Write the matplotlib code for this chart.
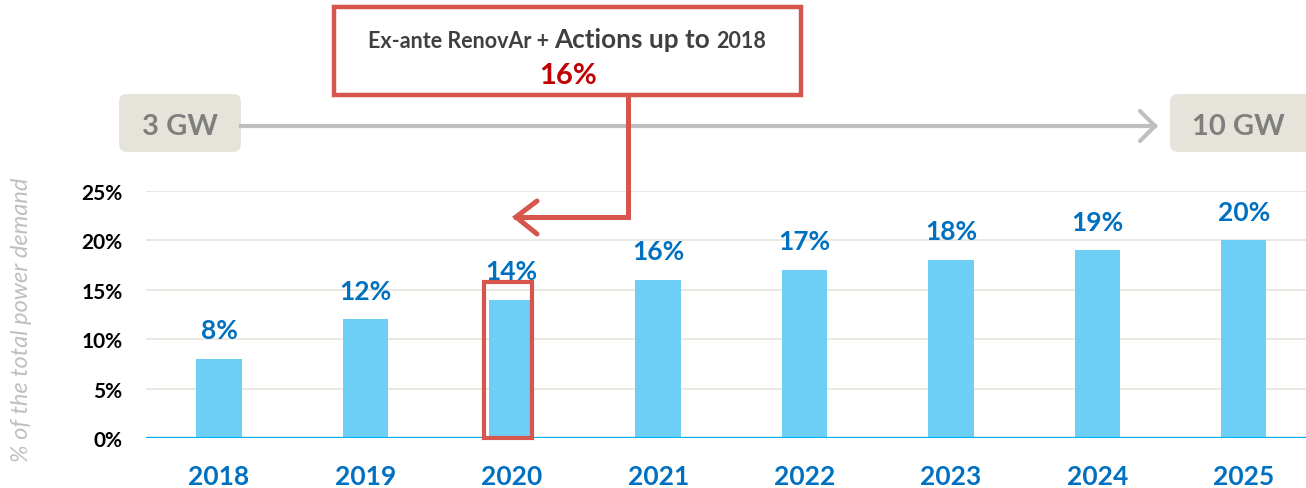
import matplotlib
matplotlib.use("Agg")
import matplotlib.pyplot as plt
from matplotlib.patches import FancyBboxPatch, Rectangle
from matplotlib.lines import Line2D
import numpy as np

plt.rcParams['font.family'] = ['Lato', 'DejaVu Sans']

years = ['2018', '2019', '2020', '2021', '2022', '2023', '2024', '2025']
share = [8, 12, 14, 16, 17, 18, 19, 20]
yticks = [0, 5, 10, 15, 20, 25]
start_cap = '3 GW'
end_cap = '10 GW'
target_txt = '16%'
highlight = '2020'

W, H = 1306, 489
fig = plt.figure(figsize=(W / 100, H / 100), dpi=100)
ax = fig.add_axes([146 / W, 50 / H, 1 - 146 / W, 247 / H])

blue = '#0070C0'
red = '#D6554D'

x = np.arange(len(years))
ax.bar(x, share, width=0.31, color='#6DCFF6', zorder=2)
for i, v in zip(x, share):
    ax.text(i, v + 2.1, f'{v}%', ha='center', va='baseline', color=blue,
            fontsize=19, fontweight='bold')

ax.set_xlim(-0.4986, 7.425)
ax.set_ylim(0, 25)
ax.set_yticks(yticks)
ax.set_yticklabels([f'{t}%' for t in yticks], fontsize=15, fontweight='bold')
ax.set_xticks(x)
ax.set_xticklabels(years, fontsize=19, fontweight='bold', color=blue)
ax.tick_params(axis='y', length=0, pad=17)
ax.tick_params(axis='x', length=0, pad=19)
ax.grid(axis='y', color='#E6E4DA', lw=1.2, zorder=0)
for s in ax.spines.values():
    s.set_visible(False)
ax.axhline(0, color='#00B0F0', lw=2.4, zorder=3)

# red frame round the 2020 bar
hi = years.index(highlight)
ax.add_patch(Rectangle((hi - 0.19, 0.05), 0.325, share[hi] + 1.75, fill=False,
                       ec=red, lw=3, clip_on=False, zorder=4))

fig.text(22 / W, 1 - 320 / H, '% of the total power demand', rotation=90,
         ha='center', va='center', fontsize=17, style='italic', color='#BFBFBF')

# helpers in figure inches
T = fig.dpi_scale_trans
def px(xp, yp):
    return xp / 100, (H - yp) / 100

# capacity boxes and grey arrow
for (x0, y0, x1, y1), lab, cx in [((119, 95, 241, 153), start_cap, 180),
                                  ((1170, 95, 1320, 153), end_cap, 1238)]:
    a = px(x0, y1)
    fig.patches.append(FancyBboxPatch(a, (x1 - x0) / 100, (y1 - y0) / 100,
                                      boxstyle='round,pad=0,rounding_size=0.08',
                                      fc='#E6E4DA', ec='none', transform=T))
    fig.text(*px(cx, 127), lab, transform=T, ha='center', va='center',
             fontsize=21, fontweight='bold', color='#7F7F7F')

grey = '#BFBFBF'
fig.lines.append(Line2D(*zip(px(241, 127), px(1155, 127)), color=grey, lw=3,
                        transform=T))
fig.lines.append(Line2D(*zip(px(1140, 112), px(1155, 127), px(1140, 142)),
                        color=grey, lw=3, transform=T, solid_capstyle='round',
                        solid_joinstyle='miter'))

# top red box
fig.patches.append(Rectangle(px(334, 96), (801 - 334) / 100, (96 - 8) / 100,
                             fill=False, ec=red, lw=3.2, transform=T))
dark = '#404040'
r = fig.canvas.get_renderer()
xs = 368
for piece, fs in [('Ex-ante RenovAr + ', 15.5), ('Actions up to ', 18.8), ('2018', 15.5)]:
    t = fig.text(*px(xs, 48), piece, transform=T, ha='left', va='baseline',
                 fontsize=fs, fontweight='bold', color=dark)
    xs += t.get_window_extent(r).width
fig.text(*px(568, 84), target_txt, transform=T, ha='center', va='baseline',
         fontsize=21, fontweight='bold', color='#C00000')

# red connector with arrow head
fig.lines.append(Line2D(*zip(px(628, 96), px(628, 218), px(516, 218)),
                        color=red, lw=3.6, transform=T, solid_joinstyle='miter'))
fig.lines.append(Line2D(*zip(px(537, 202), px(516, 218), px(537, 235)),
                        color=red, lw=3.6, transform=T, solid_capstyle='round',
                        solid_joinstyle='miter'))

fig.savefig('out.png', dpi=100)
